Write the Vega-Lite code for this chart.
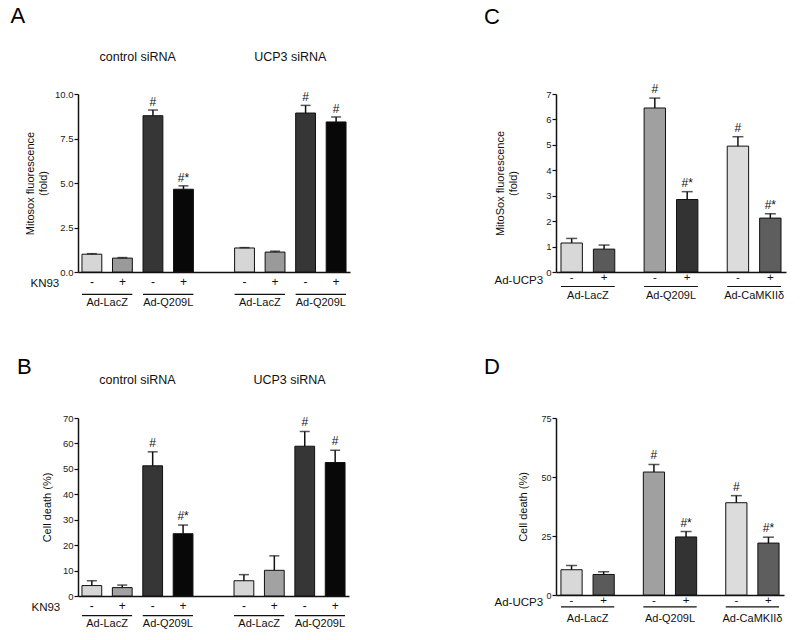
{
  "$schema": "https://vega.github.io/schema/vega-lite/v6.json",
  "background": "white",
  "padding": {"left": 10, "top": 4, "right": 5, "bottom": 5},
  "config": {
    "font": "Liberation Sans",
    "view": {"stroke": null},
    "axis": {"domainColor": "#111", "domainWidth": 1.5, "tickColor": "#111", "tickWidth": 1.2, "tickSize": 4, "labelColor": "#222", "titleColor": "#111", "titleFontWeight": "normal", "grid": false, "labelFont": "Liberation Sans", "titleFont": "Liberation Sans", "labelPadding": 1, "labelOverlap": false},
    "title": {"fontSize": 22, "fontWeight": "normal", "anchor": "start", "color": "#000", "font": "Liberation Sans"}
  },
  "datasets": {
    "A": [
      {"bar": "ctrl LacZ -", "cond": "LacZ -", "value": 1.0, "hi": 1.03, "sig": ""},
      {"bar": "ctrl LacZ +", "cond": "LacZ +", "value": 0.78, "hi": 0.81, "sig": ""},
      {"bar": "ctrl Q209L -", "cond": "Q209L -", "value": 8.78, "hi": 9.1, "sig": "#"},
      {"bar": "ctrl Q209L +", "cond": "Q209L +", "value": 4.65, "hi": 4.84, "sig": "#*"},
      {"bar": "UCP3 LacZ -", "cond": "LacZ -", "value": 1.35, "hi": 1.37, "sig": ""},
      {"bar": "UCP3 LacZ +", "cond": "LacZ +", "value": 1.12, "hi": 1.17, "sig": ""},
      {"bar": "UCP3 Q209L -", "cond": "Q209L -", "value": 8.93, "hi": 9.36, "sig": "#"},
      {"bar": "UCP3 Q209L +", "cond": "Q209L +", "value": 8.43, "hi": 8.71, "sig": "#"}
    ],
    "B": [
      {"bar": "ctrl LacZ -", "cond": "LacZ -", "value": 4.1, "hi": 6.0, "sig": ""},
      {"bar": "ctrl LacZ +", "cond": "LacZ +", "value": 3.3, "hi": 4.3, "sig": ""},
      {"bar": "ctrl Q209L -", "cond": "Q209L -", "value": 51.2, "hi": 56.7, "sig": "#"},
      {"bar": "ctrl Q209L +", "cond": "Q209L +", "value": 24.5, "hi": 27.9, "sig": "#*"},
      {"bar": "UCP3 LacZ -", "cond": "LacZ -", "value": 6.0, "hi": 8.4, "sig": ""},
      {"bar": "UCP3 LacZ +", "cond": "LacZ +", "value": 10.1, "hi": 15.8, "sig": ""},
      {"bar": "UCP3 Q209L -", "cond": "Q209L -", "value": 58.9, "hi": 64.7, "sig": "#"},
      {"bar": "UCP3 Q209L +", "cond": "Q209L +", "value": 52.5, "hi": 57.3, "sig": "#"}
    ],
    "groupsAB": [
      {"start": "ctrl LacZ -", "end": "ctrl LacZ +", "name": "Ad-LacZ"},
      {"start": "ctrl Q209L -", "end": "ctrl Q209L +", "name": "Ad-Q209L"},
      {"start": "UCP3 LacZ -", "end": "UCP3 LacZ +", "name": "Ad-LacZ"},
      {"start": "UCP3 Q209L -", "end": "UCP3 Q209L +", "name": "Ad-Q209L"}
    ],
    "headersAB": [
      {"at": "ctrl LacZ +", "name": "control siRNA"},
      {"at": "UCP3 LacZ +", "name": "UCP3 siRNA"}
    ],
    "C": [
      {"grp": "Ad-LacZ", "ucp": "-", "cond": "LacZ -", "value": 1.14, "hi": 1.32, "sig": ""},
      {"grp": "Ad-LacZ", "ucp": "+", "cond": "LacZ +", "value": 0.9, "hi": 1.06, "sig": ""},
      {"grp": "Ad-Q209L", "ucp": "-", "cond": "Q209L -", "value": 6.45, "hi": 6.84, "sig": "#"},
      {"grp": "Ad-Q209L", "ucp": "+", "cond": "Q209L +", "value": 2.85, "hi": 3.16, "sig": "#*"},
      {"grp": "Ad-CaMKIIδ", "ucp": "-", "cond": "CaMKII -", "value": 4.95, "hi": 5.32, "sig": "#"},
      {"grp": "Ad-CaMKIIδ", "ucp": "+", "cond": "CaMKII +", "value": 2.12, "hi": 2.29, "sig": "#*"}
    ],
    "D": [
      {"grp": "Ad-LacZ", "ucp": "-", "cond": "LacZ -", "value": 10.7, "hi": 12.5, "sig": ""},
      {"grp": "Ad-LacZ", "ucp": "+", "cond": "LacZ +", "value": 8.7, "hi": 9.85, "sig": ""},
      {"grp": "Ad-Q209L", "ucp": "-", "cond": "Q209L -", "value": 52.1, "hi": 55.3, "sig": "#"},
      {"grp": "Ad-Q209L", "ucp": "+", "cond": "Q209L +", "value": 24.6, "hi": 26.9, "sig": "#*"},
      {"grp": "Ad-CaMKIIδ", "ucp": "-", "cond": "CaMKII -", "value": 39.1, "hi": 42.1, "sig": "#"},
      {"grp": "Ad-CaMKIIδ", "ucp": "+", "cond": "CaMKII +", "value": 22.0, "hi": 24.5, "sig": "#*"}
    ],
    "groupsCD": [
      {"grp": "Ad-LacZ"}, {"grp": "Ad-Q209L"}, {"grp": "Ad-CaMKIIδ"}
    ]
  },
  "columns": 2,
  "align": "each",
  "spacing": {"row": 48, "column": 134},
  "resolve": {"scale": {"color": "independent", "x": "independent", "y": "independent", "xOffset": "independent"}},
  "concat": [
    {
      "title": {"text": "A", "dx": -14, "offset": 23},
      "width": 272, "height": 178,
      "layer": [
        {"data": {"name": "A"}, "mark": {"type": "bar", "stroke": "#111", "strokeWidth": 1},
         "encoding": {
           "x": {"field": "bar", "type": "nominal", "scale": {"domain": ["ctrl LacZ -", "ctrl LacZ +", "ctrl Q209L -", "ctrl Q209L +", "gap", "UCP3 LacZ -", "UCP3 LacZ +", "UCP3 Q209L -", "UCP3 Q209L +"], "paddingInner": 0.35, "paddingOuter": 0.13},
             "axis": {"title": "KN93", "ticks": false, "labelAngle": 0, "labelFontSize": 12, "labelColor": "#111", "labelPadding": 4, "labelExpr": "datum.value == 'gap' ? '' : slice(datum.value, -1)", "titleAngle": 0, "titleAlign": "left", "titleBaseline": "middle", "titleAnchor": "start", "titleX": -48, "titleY": 11, "titleFontSize": 11.5}},
           "y": {"field": "value", "type": "quantitative", "scale": {"domain": [0, 10], "nice": false},
             "axis": {"values": [0, 2.5, 5, 7.5, 10], "tickCount": 5, "format": ".1f", "labelFontSize": 9.5, "title": ["Mitosox fluorescence", "(fold)"], "titleFontSize": 11, "titlePadding": 6}},
           "color": {"field": "cond", "type": "nominal", "legend": null, "scale": {"domain": ["LacZ -", "LacZ +", "Q209L -", "Q209L +"], "range": ["#d6d6d6", "#9a9a9a", "#363636", "#080808"]}}
         }},
        {"data": {"name": "A"}, "mark": {"type": "rule", "strokeWidth": 1.5, "color": "#111"},
         "encoding": {
           "x": {"field": "bar", "type": "nominal", "scale": {"domain": ["ctrl LacZ -", "ctrl LacZ +", "ctrl Q209L -", "ctrl Q209L +", "gap", "UCP3 LacZ -", "UCP3 LacZ +", "UCP3 Q209L -", "UCP3 Q209L +"], "paddingInner": 0.35, "paddingOuter": 0.13}},
           "y": {"field": "value", "type": "quantitative", "scale": {"domain": [0, 10], "nice": false}},
           "y2": {"field": "hi"}
         }},
        {"data": {"name": "A"}, "mark": {"type": "tick", "orient": "horizontal", "size": 10, "thickness": 1.5, "color": "#111"},
         "encoding": {
           "x": {"field": "bar", "type": "nominal", "scale": {"domain": ["ctrl LacZ -", "ctrl LacZ +", "ctrl Q209L -", "ctrl Q209L +", "gap", "UCP3 LacZ -", "UCP3 LacZ +", "UCP3 Q209L -", "UCP3 Q209L +"], "paddingInner": 0.35, "paddingOuter": 0.13}},
           "y": {"field": "hi", "type": "quantitative", "scale": {"domain": [0, 10], "nice": false}}
         }},
        {"data": {"name": "A"}, "mark": {"type": "text", "baseline": "alphabetic", "dy": -4, "fontSize": 12, "color": "#111"},
         "encoding": {
           "x": {"field": "bar", "type": "nominal", "scale": {"domain": ["ctrl LacZ -", "ctrl LacZ +", "ctrl Q209L -", "ctrl Q209L +", "gap", "UCP3 LacZ -", "UCP3 LacZ +", "UCP3 Q209L -", "UCP3 Q209L +"], "paddingInner": 0.35, "paddingOuter": 0.13}},
           "y": {"field": "hi", "type": "quantitative", "scale": {"domain": [0, 10], "nice": false}},
           "text": {"field": "sig"}
         }},
        {"data": {"name": "groupsAB"}, "mark": {"type": "rule", "strokeWidth": 1.2, "color": "#111"},
         "encoding": {
           "x": {"field": "start", "type": "nominal", "bandPosition": 0, "scale": {"domain": ["ctrl LacZ -", "ctrl LacZ +", "ctrl Q209L -", "ctrl Q209L +", "gap", "UCP3 LacZ -", "UCP3 LacZ +", "UCP3 Q209L -", "UCP3 Q209L +"], "paddingInner": 0.35, "paddingOuter": 0.13}},
           "x2": {"field": "end", "bandPosition": 1},
           "y": {"datum": -1.26, "scale": {"domain": [0, 10], "nice": false}}
         }},
        {"data": {"name": "groupsAB"}, "mark": {"type": "text", "baseline": "middle", "fontSize": 11, "color": "#111"},
         "encoding": {
           "x": {"field": "start", "type": "nominal", "bandPosition": 1.27, "scale": {"domain": ["ctrl LacZ -", "ctrl LacZ +", "ctrl Q209L -", "ctrl Q209L +", "gap", "UCP3 LacZ -", "UCP3 LacZ +", "UCP3 Q209L -", "UCP3 Q209L +"], "paddingInner": 0.35, "paddingOuter": 0.13}},
           "y": {"datum": -1.74, "scale": {"domain": [0, 10], "nice": false}},
           "text": {"field": "name"}
         }},
        {"data": {"name": "headersAB"}, "mark": {"type": "text", "baseline": "middle", "fontSize": 12.5, "color": "#111"},
         "encoding": {
           "x": {"field": "at", "type": "nominal", "bandPosition": 1.27, "scale": {"domain": ["ctrl LacZ -", "ctrl LacZ +", "ctrl Q209L -", "ctrl Q209L +", "gap", "UCP3 LacZ -", "UCP3 LacZ +", "UCP3 Q209L -", "UCP3 Q209L +"], "paddingInner": 0.35, "paddingOuter": 0.13}},
           "y": {"datum": 12.08, "scale": {"domain": [0, 10], "nice": false}},
           "text": {"field": "name"}
         }}
      ]
    },
    {
      "title": {"text": "C", "dx": -10, "offset": 54},
      "width": 230, "height": 178,
      "layer": [
        {"data": {"name": "C"}, "mark": {"type": "bar", "stroke": "#111", "strokeWidth": 1},
         "encoding": {
           "x": {"field": "grp", "type": "nominal", "scale": {"domain": ["Ad-LacZ", "Ad-Q209L", "Ad-CaMKIIδ"], "paddingInner": 0.353, "paddingOuter": 0.06},
             "axis": {"title": "Ad-UCP3", "ticks": false, "labels": false, "titleAngle": 0, "titleAlign": "left", "titleBaseline": "middle", "titleAnchor": "start", "titleX": -62, "titleY": 8, "titleFontSize": 11.5}},
           "xOffset": {"field": "ucp", "type": "nominal", "scale": {"domain": ["-", "+"], "paddingInner": 0.34, "paddingOuter": 0}},
           "y": {"field": "value", "type": "quantitative", "scale": {"domain": [0, 7], "nice": false},
             "axis": {"values": [0, 1, 2, 3, 4, 5, 6, 7], "tickCount": 8, "labelFontSize": 9.5, "title": ["MitoSox fluorescence", "(fold)"], "titleFontSize": 11, "titlePadding": 27}},
           "color": {"field": "cond", "type": "nominal", "legend": null, "scale": {"domain": ["LacZ -", "LacZ +", "Q209L -", "Q209L +", "CaMKII -", "CaMKII +"], "range": ["#d8d8d8", "#5a5a5a", "#a0a0a0", "#333333", "#dcdcdc", "#5e5e5e"]}}
         }},
        {"data": {"name": "C"}, "mark": {"type": "rule", "strokeWidth": 1.5, "color": "#111"},
         "encoding": {
           "x": {"field": "grp", "type": "nominal", "scale": {"domain": ["Ad-LacZ", "Ad-Q209L", "Ad-CaMKIIδ"], "paddingInner": 0.353, "paddingOuter": 0.06}},
           "xOffset": {"field": "ucp", "type": "nominal", "scale": {"domain": ["-", "+"], "paddingInner": 0.34, "paddingOuter": 0}},
           "y": {"field": "value", "type": "quantitative", "scale": {"domain": [0, 7], "nice": false}},
           "y2": {"field": "hi"}
         }},
        {"data": {"name": "C"}, "mark": {"type": "tick", "orient": "horizontal", "size": 11, "thickness": 1.5, "color": "#111"},
         "encoding": {
           "x": {"field": "grp", "type": "nominal", "scale": {"domain": ["Ad-LacZ", "Ad-Q209L", "Ad-CaMKIIδ"], "paddingInner": 0.353, "paddingOuter": 0.06}},
           "xOffset": {"field": "ucp", "type": "nominal", "scale": {"domain": ["-", "+"], "paddingInner": 0.34, "paddingOuter": 0}},
           "y": {"field": "hi", "type": "quantitative", "scale": {"domain": [0, 7], "nice": false}}
         }},
        {"data": {"name": "C"}, "mark": {"type": "text", "baseline": "alphabetic", "dy": -5, "fontSize": 12, "color": "#111"},
         "encoding": {
           "x": {"field": "grp", "type": "nominal", "scale": {"domain": ["Ad-LacZ", "Ad-Q209L", "Ad-CaMKIIδ"], "paddingInner": 0.353, "paddingOuter": 0.06}},
           "xOffset": {"field": "ucp", "type": "nominal", "scale": {"domain": ["-", "+"], "paddingInner": 0.34, "paddingOuter": 0}},
           "y": {"field": "hi", "type": "quantitative", "scale": {"domain": [0, 7], "nice": false}},
           "text": {"field": "sig"}
         }},
        {"data": {"name": "C"}, "mark": {"type": "text", "baseline": "middle", "fontSize": 11.5, "color": "#111"},
         "encoding": {
           "x": {"field": "grp", "type": "nominal", "scale": {"domain": ["Ad-LacZ", "Ad-Q209L", "Ad-CaMKIIδ"], "paddingInner": 0.353, "paddingOuter": 0.06}},
           "xOffset": {"field": "ucp", "type": "nominal", "scale": {"domain": ["-", "+"], "paddingInner": 0.34, "paddingOuter": 0}},
           "y": {"datum": -0.22, "scale": {"domain": [0, 7], "nice": false}},
           "text": {"field": "ucp"}
         }},
        {"data": {"name": "groupsCD"}, "mark": {"type": "rule", "strokeWidth": 1.2, "color": "#111"},
         "encoding": {
           "x": {"field": "grp", "type": "nominal", "bandPosition": 0, "scale": {"domain": ["Ad-LacZ", "Ad-Q209L", "Ad-CaMKIIδ"], "paddingInner": 0.353, "paddingOuter": 0.06}},
           "x2": {"field": "grp", "bandPosition": 1},
           "y": {"datum": -0.57, "scale": {"domain": [0, 7], "nice": false}}
         }},
        {"data": {"name": "groupsCD"}, "mark": {"type": "text", "baseline": "middle", "fontSize": 11, "color": "#111"},
         "encoding": {
           "x": {"field": "grp", "type": "nominal", "scale": {"domain": ["Ad-LacZ", "Ad-Q209L", "Ad-CaMKIIδ"], "paddingInner": 0.353, "paddingOuter": 0.06}},
           "y": {"datum": -0.96, "scale": {"domain": [0, 7], "nice": false}},
           "text": {"field": "grp"}
         }}
      ]
    },
    {
      "title": {"text": "B", "dx": -14, "offset": -5},
      "width": 271, "height": 178,
      "layer": [
        {"data": {"name": "B"}, "mark": {"type": "bar", "stroke": "#111", "strokeWidth": 1},
         "encoding": {
           "x": {"field": "bar", "type": "nominal", "scale": {"domain": ["ctrl LacZ -", "ctrl LacZ +", "ctrl Q209L -", "ctrl Q209L +", "gap", "UCP3 LacZ -", "UCP3 LacZ +", "UCP3 Q209L -", "UCP3 Q209L +"], "paddingInner": 0.35, "paddingOuter": 0.13},
             "axis": {"title": "KN93", "ticks": false, "labelAngle": 0, "labelFontSize": 12, "labelColor": "#111", "labelPadding": 4, "labelExpr": "datum.value == 'gap' ? '' : slice(datum.value, -1)", "titleAngle": 0, "titleAlign": "left", "titleBaseline": "middle", "titleAnchor": "start", "titleX": -47, "titleY": 11, "titleFontSize": 11.5}},
           "y": {"field": "value", "type": "quantitative", "scale": {"domain": [0, 70], "nice": false},
             "axis": {"values": [0, 10, 20, 30, 40, 50, 60, 70], "tickCount": 8, "labelFontSize": 9.5, "title": "Cell death  (%)", "titleFontSize": 11, "titlePadding": 10}},
           "color": {"field": "cond", "type": "nominal", "legend": null, "scale": {"domain": ["LacZ -", "LacZ +", "Q209L -", "Q209L +"], "range": ["#d6d6d6", "#a2a2a2", "#363636", "#080808"]}}
         }},
        {"data": {"name": "B"}, "mark": {"type": "rule", "strokeWidth": 1.5, "color": "#111"},
         "encoding": {
           "x": {"field": "bar", "type": "nominal", "scale": {"domain": ["ctrl LacZ -", "ctrl LacZ +", "ctrl Q209L -", "ctrl Q209L +", "gap", "UCP3 LacZ -", "UCP3 LacZ +", "UCP3 Q209L -", "UCP3 Q209L +"], "paddingInner": 0.35, "paddingOuter": 0.13}},
           "y": {"field": "value", "type": "quantitative", "scale": {"domain": [0, 70], "nice": false}},
           "y2": {"field": "hi"}
         }},
        {"data": {"name": "B"}, "mark": {"type": "tick", "orient": "horizontal", "size": 10, "thickness": 1.5, "color": "#111"},
         "encoding": {
           "x": {"field": "bar", "type": "nominal", "scale": {"domain": ["ctrl LacZ -", "ctrl LacZ +", "ctrl Q209L -", "ctrl Q209L +", "gap", "UCP3 LacZ -", "UCP3 LacZ +", "UCP3 Q209L -", "UCP3 Q209L +"], "paddingInner": 0.35, "paddingOuter": 0.13}},
           "y": {"field": "hi", "type": "quantitative", "scale": {"domain": [0, 70], "nice": false}}
         }},
        {"data": {"name": "B"}, "mark": {"type": "text", "baseline": "alphabetic", "dy": -5, "fontSize": 12, "color": "#111"},
         "encoding": {
           "x": {"field": "bar", "type": "nominal", "scale": {"domain": ["ctrl LacZ -", "ctrl LacZ +", "ctrl Q209L -", "ctrl Q209L +", "gap", "UCP3 LacZ -", "UCP3 LacZ +", "UCP3 Q209L -", "UCP3 Q209L +"], "paddingInner": 0.35, "paddingOuter": 0.13}},
           "y": {"field": "hi", "type": "quantitative", "scale": {"domain": [0, 70], "nice": false}},
           "text": {"field": "sig"}
         }},
        {"data": {"name": "groupsAB"}, "mark": {"type": "rule", "strokeWidth": 1.2, "color": "#111"},
         "encoding": {
           "x": {"field": "start", "type": "nominal", "bandPosition": 0, "scale": {"domain": ["ctrl LacZ -", "ctrl LacZ +", "ctrl Q209L -", "ctrl Q209L +", "gap", "UCP3 LacZ -", "UCP3 LacZ +", "UCP3 Q209L -", "UCP3 Q209L +"], "paddingInner": 0.35, "paddingOuter": 0.13}},
           "x2": {"field": "end", "bandPosition": 1},
           "y": {"datum": -7.75, "scale": {"domain": [0, 70], "nice": false}}
         }},
        {"data": {"name": "groupsAB"}, "mark": {"type": "text", "baseline": "middle", "fontSize": 11, "color": "#111"},
         "encoding": {
           "x": {"field": "start", "type": "nominal", "bandPosition": 1.27, "scale": {"domain": ["ctrl LacZ -", "ctrl LacZ +", "ctrl Q209L -", "ctrl Q209L +", "gap", "UCP3 LacZ -", "UCP3 LacZ +", "UCP3 Q209L -", "UCP3 Q209L +"], "paddingInner": 0.35, "paddingOuter": 0.13}},
           "y": {"datum": -11.0, "scale": {"domain": [0, 70], "nice": false}},
           "text": {"field": "name"}
         }},
        {"data": {"name": "headersAB"}, "mark": {"type": "text", "baseline": "middle", "fontSize": 12.5, "color": "#111"},
         "encoding": {
           "x": {"field": "at", "type": "nominal", "bandPosition": 1.27, "scale": {"domain": ["ctrl LacZ -", "ctrl LacZ +", "ctrl Q209L -", "ctrl Q209L +", "gap", "UCP3 LacZ -", "UCP3 LacZ +", "UCP3 Q209L -", "UCP3 Q209L +"], "paddingInner": 0.35, "paddingOuter": 0.13}},
           "y": {"datum": 84.8, "scale": {"domain": [0, 70], "nice": false}},
           "text": {"field": "name"}
         }}
      ]
    },
    {
      "title": {"text": "D", "dx": -10, "offset": 35},
      "width": 228, "height": 177,
      "layer": [
        {"data": {"name": "D"}, "mark": {"type": "bar", "stroke": "#111", "strokeWidth": 1},
         "encoding": {
           "x": {"field": "grp", "type": "nominal", "scale": {"domain": ["Ad-LacZ", "Ad-Q209L", "Ad-CaMKIIδ"], "paddingInner": 0.353, "paddingOuter": 0.06},
             "axis": {"title": "Ad-UCP3", "ticks": false, "labels": false, "titleAngle": 0, "titleAlign": "left", "titleBaseline": "middle", "titleAnchor": "start", "titleX": -62, "titleY": 7, "titleFontSize": 11.5}},
           "xOffset": {"field": "ucp", "type": "nominal", "scale": {"domain": ["-", "+"], "paddingInner": 0.34, "paddingOuter": 0}},
           "y": {"field": "value", "type": "quantitative", "scale": {"domain": [0, 75], "nice": false},
             "axis": {"values": [0, 25, 50, 75], "tickCount": 4, "labelFontSize": 9, "title": "Cell death  (%)", "titleFontSize": 11, "titlePadding": 12}},
           "color": {"field": "cond", "type": "nominal", "legend": null, "scale": {"domain": ["LacZ -", "LacZ +", "Q209L -", "Q209L +", "CaMKII -", "CaMKII +"], "range": ["#d8d8d8", "#5a5a5a", "#a0a0a0", "#333333", "#dcdcdc", "#5e5e5e"]}}
         }},
        {"data": {"name": "D"}, "mark": {"type": "rule", "strokeWidth": 1.5, "color": "#111"},
         "encoding": {
           "x": {"field": "grp", "type": "nominal", "scale": {"domain": ["Ad-LacZ", "Ad-Q209L", "Ad-CaMKIIδ"], "paddingInner": 0.353, "paddingOuter": 0.06}},
           "xOffset": {"field": "ucp", "type": "nominal", "scale": {"domain": ["-", "+"], "paddingInner": 0.34, "paddingOuter": 0}},
           "y": {"field": "value", "type": "quantitative", "scale": {"domain": [0, 75], "nice": false}},
           "y2": {"field": "hi"}
         }},
        {"data": {"name": "D"}, "mark": {"type": "tick", "orient": "horizontal", "size": 11, "thickness": 1.5, "color": "#111"},
         "encoding": {
           "x": {"field": "grp", "type": "nominal", "scale": {"domain": ["Ad-LacZ", "Ad-Q209L", "Ad-CaMKIIδ"], "paddingInner": 0.353, "paddingOuter": 0.06}},
           "xOffset": {"field": "ucp", "type": "nominal", "scale": {"domain": ["-", "+"], "paddingInner": 0.34, "paddingOuter": 0}},
           "y": {"field": "hi", "type": "quantitative", "scale": {"domain": [0, 75], "nice": false}}
         }},
        {"data": {"name": "D"}, "mark": {"type": "text", "baseline": "alphabetic", "dy": -5, "fontSize": 12, "color": "#111"},
         "encoding": {
           "x": {"field": "grp", "type": "nominal", "scale": {"domain": ["Ad-LacZ", "Ad-Q209L", "Ad-CaMKIIδ"], "paddingInner": 0.353, "paddingOuter": 0.06}},
           "xOffset": {"field": "ucp", "type": "nominal", "scale": {"domain": ["-", "+"], "paddingInner": 0.34, "paddingOuter": 0}},
           "y": {"field": "hi", "type": "quantitative", "scale": {"domain": [0, 75], "nice": false}},
           "text": {"field": "sig"}
         }},
        {"data": {"name": "D"}, "mark": {"type": "text", "baseline": "middle", "fontSize": 11.5, "color": "#111"},
         "encoding": {
           "x": {"field": "grp", "type": "nominal", "scale": {"domain": ["Ad-LacZ", "Ad-Q209L", "Ad-CaMKIIδ"], "paddingInner": 0.353, "paddingOuter": 0.06}},
           "xOffset": {"field": "ucp", "type": "nominal", "scale": {"domain": ["-", "+"], "paddingInner": 0.34, "paddingOuter": 0}},
           "y": {"datum": -2.7, "scale": {"domain": [0, 75], "nice": false}},
           "text": {"field": "ucp"}
         }},
        {"data": {"name": "groupsCD"}, "mark": {"type": "rule", "strokeWidth": 1.2, "color": "#111"},
         "encoding": {
           "x": {"field": "grp", "type": "nominal", "bandPosition": 0, "scale": {"domain": ["Ad-LacZ", "Ad-Q209L", "Ad-CaMKIIδ"], "paddingInner": 0.353, "paddingOuter": 0.06}},
           "x2": {"field": "grp", "bandPosition": 1},
           "y": {"datum": -5.0, "scale": {"domain": [0, 75], "nice": false}}
         }},
        {"data": {"name": "groupsCD"}, "mark": {"type": "text", "baseline": "middle", "fontSize": 11, "color": "#111"},
         "encoding": {
           "x": {"field": "grp", "type": "nominal", "scale": {"domain": ["Ad-LacZ", "Ad-Q209L", "Ad-CaMKIIδ"], "paddingInner": 0.353, "paddingOuter": 0.06}},
           "y": {"datum": -10.0, "scale": {"domain": [0, 75], "nice": false}},
           "text": {"field": "grp"}
         }}
      ]
    }
  ]
}
